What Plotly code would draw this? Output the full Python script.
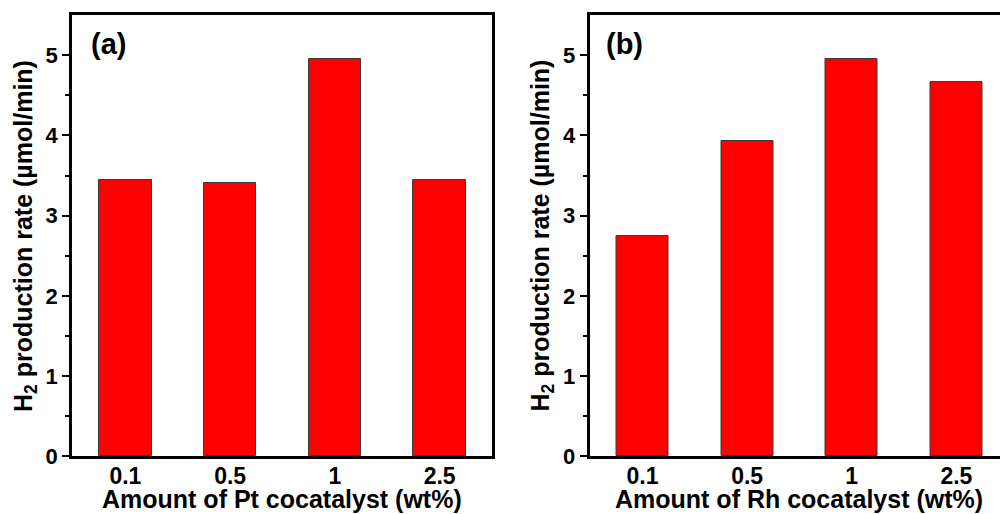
import plotly.graph_objects as go

# Cocatalyst loading (wt%) and measured H2 production rates
loadings = ["0.1", "0.5", "1", "2.5"]
pt_rates = [3.45, 3.41, 4.95, 3.44]
rh_rates = [2.75, 3.93, 4.95, 4.66]

FONT = "Liberation Sans, Arial, sans-serif"
BAR_COLOR = "#ff0000"
EDGE_COLOR = "#3a3a3a"

fig = go.Figure()

fig.add_trace(go.Bar(
    x=list(range(len(loadings))), y=pt_rates, width=0.5,
    marker=dict(color=BAR_COLOR, line=dict(color=EDGE_COLOR, width=1)),
    xaxis="x", yaxis="y", showlegend=False,
))
fig.add_trace(go.Bar(
    x=list(range(len(loadings))), y=rh_rates, width=0.5,
    marker=dict(color=BAR_COLOR, line=dict(color=EDGE_COLOR, width=1)),
    xaxis="x2", yaxis="y2", showlegend=False,
))

y_dom = [0.1119, 0.9708]

xcommon = dict(
    tickmode="array", tickvals=list(range(len(loadings))), ticktext=loadings,
    ticks="", showline=True, linecolor="black", linewidth=2.5,
    showgrid=False, zeroline=False, ticklabelstandoff=-3, automargin=False,
    tickfont=dict(family=FONT, size=23, color="black", weight="bold"),
    fixedrange=True,
)
ycommon = dict(
    range=[0, 5.5], tickvals=[0, 1, 2, 3, 4, 5],
    ticks="outside", ticklen=7, tickwidth=2, tickcolor="black",
    minor=dict(tickvals=[0.5, 1.5, 2.5, 3.5, 4.5], ticks="outside",
               ticklen=4, tickwidth=2, tickcolor="black"),
    showline=True, linecolor="black", linewidth=2.5,
    showgrid=False, zeroline=False, automargin=False,
    tickfont=dict(family=FONT, size=22, color="black", weight="bold"),
    fixedrange=True,
)

fig.update_layout(
    width=1000, height=514,
    margin=dict(l=0, r=0, t=0, b=0),
    paper_bgcolor="white", plot_bgcolor="white",
    bargap=0,
    xaxis=dict(domain=[0.072, 0.492], range=[-0.51, 3.5], anchor="y",
               mirror=True, **xcommon),
    yaxis=dict(domain=y_dom, anchor="x", mirror=True, **ycommon),
    xaxis2=dict(domain=[0.5895, 1.0], range=[-0.507, 3.417], anchor="y2",
                mirror=True, **xcommon),
    yaxis2=dict(domain=y_dom, anchor="x2", mirror=False, **ycommon),
)

title_font = dict(family=FONT, size=25, color="black", weight="bold")
label_font = dict(family=FONT, size=29, color="black", weight="bold")
ytitle = "H<sub>2</sub> production rate (µmol/min)"


def note(text, px, py, font, angle=0):
    return dict(text=text, x=px / 1000, y=1 - py / 514, xref="paper", yref="paper",
                xanchor="center", yanchor="middle", textangle=angle,
                showarrow=False, font=font)


annotations = [
    note("(a)", 108.5, 44, label_font),
    note("(b)", 624.5, 44, label_font),
    note(ytitle, 25, 236, title_font, -90),
    note(ytitle, 541.5, 236, title_font, -90),
    note("Amount of Pt cocatalyst (wt%)", 281.5, 499, title_font),
    note("Amount of Rh cocatalyst (wt%)", 799, 499, title_font),
]
fig.update_layout(annotations=annotations)

fig.write_html("out.html", config=dict(displayModeBar=False))
